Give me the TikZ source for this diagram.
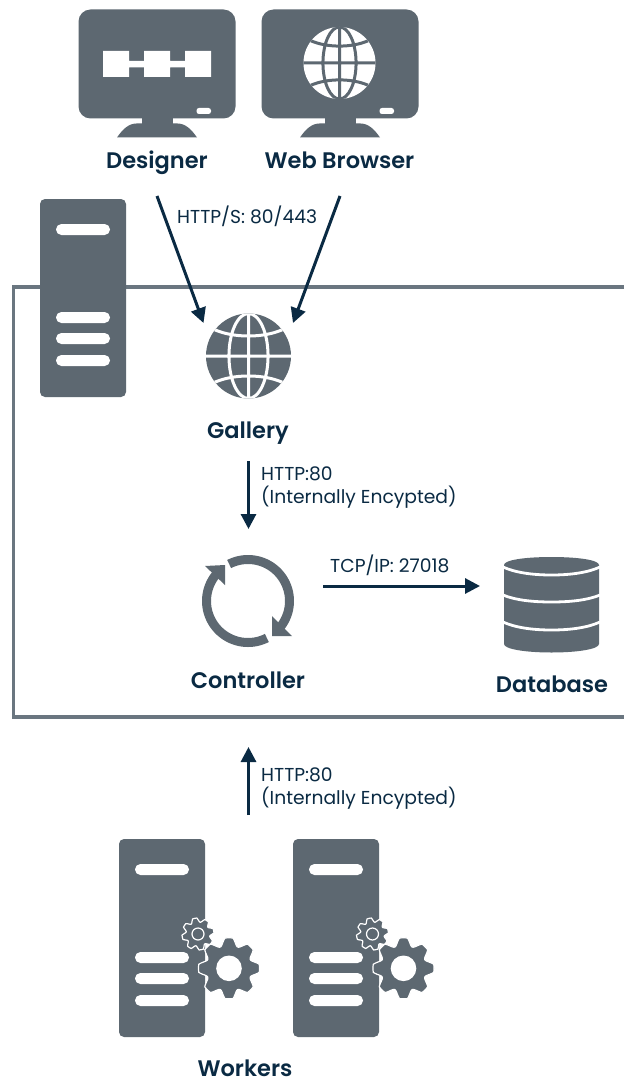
\documentclass[tikz,border=0pt]{standalone}
\usepackage{fontspec}
\usetikzlibrary{arrows.meta}
\setmainfont{Poppins}[BoldFont={Poppins SemiBold}]
\definecolor{icon}{HTML}{5D6871}
\definecolor{framec}{HTML}{6A7680}
\definecolor{ink}{HTML}{0A2A43}
\tikzset{
  title/.style={font=\fontsize{22.5}{24}\selectfont\bfseries,text=ink,inner sep=0pt,anchor=base},
  lbl/.style={font=\fontsize{18.7}{22.5}\selectfont,text=ink,inner sep=0pt,anchor=west,align=left},
  link/.style={draw=ink,line width=3pt,-{Triangle[width=15pt,length=15pt]}},
  cutout/.style={fill=white,draw=none}
}
\newcommand{\globeicon}[5]{%
  \begin{scope}[shift={(#1,#2)},x=#3pt,y=#3pt]
    \fill[#4] (0,0) circle[radius=1];
    \begin{scope}
      \clip (0,0) circle[radius=1];
      \draw[#5,line width=3pt] (-1,0) -- (1,0) (0,-1) -- (0,1)
        (0,0) ellipse[x radius=.46,y radius=1]
        (-.8,-.62) .. controls (-.35,-.42) and (.35,-.42) .. (.8,-.62)
        (-.8,.62) .. controls (-.35,.42) and (.35,.42) .. (.8,.62);
    \end{scope}
  \end{scope}}
\newcommand{\monitoricon}[2]{%
  \begin{scope}[shift={(#1,#2)}]
    \fill[icon,rounded corners=12pt] (0,0) rectangle (157,109);
    \fill[icon] (63,105) rectangle (94,116);
    \fill[icon] (38.5,128) .. controls (44,120) and (50,114) .. (58,114)
       -- (99,114) .. controls (107,114) and (113,120) .. (118.5,128) -- cycle;
    \fill[cutout,rounded corners=2.5pt] (118,98.5) rectangle (132.5,104.5);
  \end{scope}}
\newcommand{\servericon}[2]{%
  \begin{scope}[shift={(#1,#2)}]
    \fill[icon,rounded corners=5pt] (0,0) rectangle (86,198);
    \foreach \b in {25,113,134,156}
      \fill[cutout,rounded corners=5.4pt] (16,\b) rectangle (70,\b+11);
  \end{scope}}
\newcommand{\gearshape}[3]{% rb, ro, rotation
  plot[domain=0:360,samples=241,variable=\t]
   ({(#1+(#2-#1)*min(1,1.35*(0.5+0.5*cos(8*(\t+#3)))))*cos(\t)},{(#1+(#2-#1)*min(1,1.35*(0.5+0.5*cos(8*(\t+#3)))))*sin(\t)}) -- cycle}
\newcommand{\gearsicon}[2]{%
  \begin{scope}[shift={(#1,#2)}]
    \draw[fill=icon,draw=white,line width=1.2pt] \gearshape{12}{16}{12};
    \draw[fill=icon,draw=white,line width=1.2pt] (0,0) circle[radius=6];
    \begin{scope}[shift={(31,34.3)}]
      \draw[fill=icon,draw=white,line width=1.2pt] \gearshape{23}{30.5}{0};
      \fill[cutout] (0,0) circle[radius=12.8];
    \end{scope}
  \end{scope}}
\begin{document}
\begin{tikzpicture}[x=1pt,y=-1pt]
\useasboundingbox (0,0) rectangle (624,1078);
\fill[white] (0,0) rectangle (624,1078);
% frame
\draw[framec,line width=3.2pt] (624,287) -- (13.5,287) -- (13.5,717) -- (624,717);
% monitors
\monitoricon{78.5}{9.5}
\monitoricon{261.5}{9.5}
\fill[cutout] (103,51) rectangle (129,77) (144,51) rectangle (170,77) (185,51) rectangle (211,77)
   (129,61) rectangle (144,67.5) (170,61) rectangle (185,67.5);
\globeicon{339.5}{63}{36}{white}{icon}
\node[title] (designer) at (157,168.5) {Designer};
\node[title] (browser) at (339.5,168.5) {Web Browser};
% server and gallery
\servericon{40}{199}
\globeicon{248.5}{356}{42.5}{icon}{white}
\node[title] (gallery) at (248,438) {Gallery};
% controller
\begin{scope}[shift={(248,601)}]
  \draw[icon,line width=9pt] plot[domain=117:-42,samples=60,variable=\t] ({41.5*cos(\t)},{-41.5*sin(\t)});
  \draw[icon,line width=9pt] plot[domain=-63:-222,samples=60,variable=\t] ({41.5*cos(\t)},{-41.5*sin(\t)});
  \fill[icon] (24,15) -- (24,35) -- (44,35) -- cycle;
  \fill[icon] (-23,-16) -- (-23,-36) -- (-43,-35) -- cycle;
\end{scope}
\node[title] (controller) at (248,688) {Controller};
% database
\fill[icon] (504,565) .. controls (504,560) and (525,557) .. (551.5,557)
  .. controls (578,557) and (599,560) .. (599,565) -- (599,644)
  .. controls (599,649) and (578,652.5) .. (551.5,652.5)
  .. controls (525,652.5) and (504,649) .. (504,644) -- cycle;
\draw[white,line width=2.8pt]
  (503,567) .. controls (515,572.5) and (532,575) .. (551.5,575) .. controls (571,575) and (588,572.5) .. (600,567)
  (503,595) .. controls (515,600) and (532,602) .. (551.5,602) .. controls (571,602) and (588,600) .. (600,595)
  (503,622) .. controls (515,627.5) and (532,630) .. (551.5,630) .. controls (571,630) and (588,627.5) .. (600,622);
\node[title] (database) at (552,692) {Database};
% workers
\servericon{119}{839}
\gearsicon{198}{934}
\servericon{293}{839}
\gearsicon{372.5}{934}
\node[title] (workers) at (245,1076.5) {Workers};
% connector ends
\coordinate (designerOut) at (157,196);
\coordinate (browserOut) at (340,196);
\coordinate (galleryInA) at (203.5,323);
\coordinate (galleryInB) at (293,323);
\coordinate (galleryOut) at (248.5,461);
\coordinate (controllerIn) at (248.5,529);
\coordinate (controllerOut) at (323,586);
\coordinate (databaseIn) at (480,586);
\coordinate (workersOut) at (248.5,815);
\coordinate (controllerBottom) at (248.5,747);
\draw[link] (designerOut) -- (galleryInA);
\draw[link] (browserOut) -- (galleryInB);
\draw[link] (galleryOut) -- (controllerIn);
\draw[link] (controllerOut) -- (databaseIn);
\draw[link] (workersOut) -- (controllerBottom);
% labels
\node[lbl] (https) at (177,216.5) {HTTP/S: 80/443};
\node[lbl] (http1) at (261,487.5) {HTTP:80\\(Internally Encypted)};
\node[lbl] (tcp) at (330,565.5) {TCP/IP: 27018};
\node[lbl] (http2) at (261,788.5) {HTTP:80\\(Internally Encypted)};
\end{tikzpicture}
\end{document}
